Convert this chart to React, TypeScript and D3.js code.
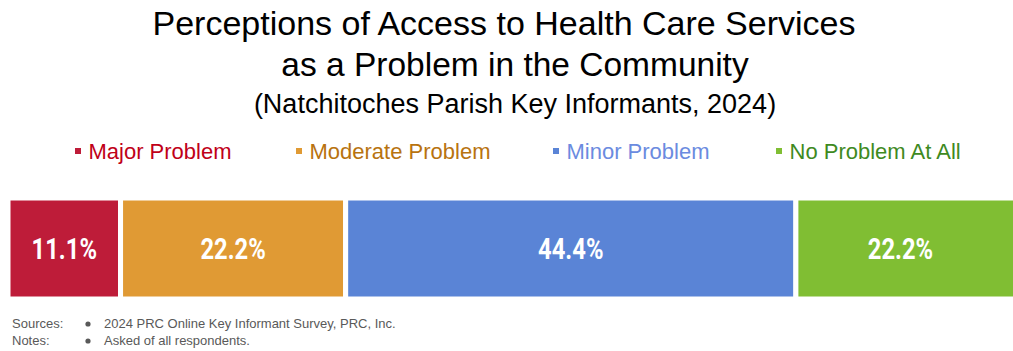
import React from "react";
import * as d3 from "d3";

const categories = ["Major Problem", "Moderate Problem", "Minor Problem", "No Problem At All"];
const values = [11.1, 22.2, 44.4, 22.2];
const barColors = ["#BE1C39", "#E09A34", "#5A84D6", "#80BE33"];
const legendTextColors = ["#C00018", "#B8730F", "#6B8BE0", "#3F8A1F"];
const titleLines = ["Perceptions of Access to Health Care Services", "as a Problem in the Community"];
const subtitle = "(Natchitoches Parish Key Informants, 2024)";
const noteLabels = ["Sources:", "Notes:"];
const noteTexts = ["2024 PRC Online Key Informant Survey, PRC, Inc.", "Asked of all respondents."];
const legendX = [75, 296, 553, 776];

export default function App() {
  const W = 1013, H = 351;
  const total = d3.sum(values);
  const x = d3.scaleLinear().domain([0, total]).range([8, 1021]);
  const starts = d3.cumsum([0, ...values]);
  const barTop = 198, barH = 101;
  return (
    <svg width={W} height={H} style={{ position: "absolute", left: 0, top: 0, background: "#fff" }}
      fontFamily="'Liberation Sans', Arial, sans-serif">
      <rect width={W} height={H} fill="#fff" />
      <text x={504} y={35} textAnchor="middle" fontSize={34} fill="#000">{titleLines[0]}</text>
      <text x={515} y={75.5} textAnchor="middle" fontSize={33.5} fill="#000">{titleLines[1]}</text>
      <text x={515} y={113} textAnchor="middle" fontSize={27} fill="#000">{subtitle}</text>
      {categories.map((c, i) => (
        <g key={c}>
          <rect x={legendX[i]} y={148} width={6} height={6} fill={barColors[i]} />
          <text x={legendX[i] + 13.5} y={159} fontSize={22} fill={legendTextColors[i]}>{c}</text>
        </g>
      ))}
      {values.map((v, i) => {
        const x0 = x(starts[i]);
        const x1 = x(starts[i] + v);
        const cx = (x0 + Math.min(x1, W)) / 2 + (i === 3 ? -4 : 0);
        return (
          <g key={i}>
            <rect x={x0} y={barTop} width={x1 - x0} height={barH} fill={barColors[i]} stroke="#fff" strokeWidth={5} />
            <text transform={`translate(${cx},${barTop + barH / 2 + 10.5}) scale(0.82,1)`} textAnchor="middle"
              fontSize={29} fontWeight="bold" fill="#fff"
              fontFamily="Roboto, sans-serif">
              {v.toFixed(1)}%
            </text>
          </g>
        );
      })}
      {noteLabels.map((l, i) => (
        <g key={l} fontSize={13} fill="#595959">
          <text x={12} y={328 + i * 17}>{l}</text>
          <circle cx={88} cy={324 + i * 17} r={2.6} fill="#595959" />
          <text x={104} y={328 + i * 17}>{noteTexts[i]}</text>
        </g>
      ))}
    </svg>
  );
}
